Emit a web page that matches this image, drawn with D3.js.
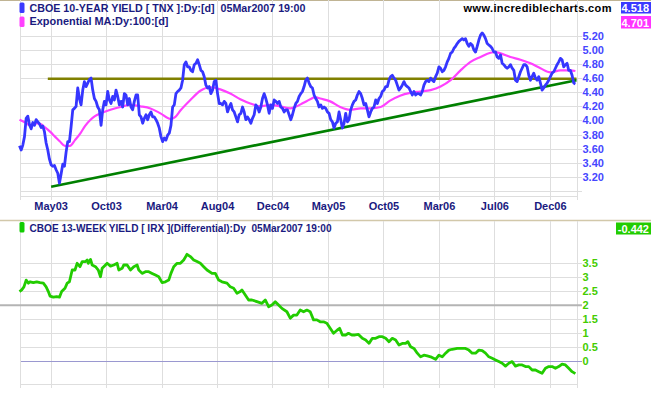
<!DOCTYPE html>
<html><head><meta charset="utf-8">
<script src="https://cdn.jsdelivr.net/npm/d3@7"></script>
<style>
body{margin:0;background:#fff}
svg{display:block}
text{font-family:"Liberation Sans",Arial,sans-serif;white-space:pre;}
</style>
</head><body>
<svg id="chart" width="651" height="395"></svg>
<script>
// ---------- DATA ----------
// CBOE 10-year yield (TNX), daily closes sampled every 3 trading days from start of chart
const tnxStep = 3;
const tnxValues = [
3.64,3.58,3.65,3.77,4.03,4.06,3.94,3.88,3.97,3.93,
4.01,3.98,3.95,3.90,3.92,3.84,3.68,3.58,3.45,3.37,
3.35,3.36,3.30,3.25,3.11,3.24,3.38,3.35,3.55,3.70,
3.70,3.91,4.15,4.17,4.20,
4.46,4.31,4.22,4.43,4.55,4.48,4.53,4.58,4.60,4.43,
4.31,4.27,4.19,4.15,3.93,4.15,4.27,4.22,4.41,4.29,
4.24,4.34,4.29,4.43,4.34,4.22,4.27,4.19,4.38,4.36,
4.22,4.31,4.19,4.15,4.27,4.36,4.36,4.08,4.05,3.96,
4.03,4.08,4.01,4.08,4.12,4.05,4.05,4.01,3.96,3.89,
3.77,3.70,3.75,3.72,3.79,3.82,3.93,4.19,4.22,4.38,
4.41,4.43,4.46,4.57,4.79,4.83,4.76,4.76,4.71,4.69,
4.79,4.81,4.86,4.79,4.71,4.69,4.62,4.50,4.46,4.48,
4.38,4.43,4.55,4.57,4.38,4.24,4.24,4.22,4.27,4.24,
4.12,4.19,4.24,4.15,4.12,4.05,3.98,4.08,4.10,4.19,
4.12,4.01,4.05,4.01,3.96,4.03,4.08,4.22,4.19,4.12,
4.19,4.31,4.38,4.31,4.22,4.10,4.22,4.17,4.29,4.27,
4.24,4.27,4.19,4.17,4.12,4.15,4.15,4.08,4.01,4.08,
4.17,4.24,4.27,4.34,4.38,4.41,4.48,4.57,4.60,4.53,
4.48,4.46,4.36,4.31,4.27,4.19,4.22,4.17,4.19,4.17,
4.12,4.10,4.01,3.98,3.89,3.96,3.98,4.12,4.01,3.89,
3.96,4.10,3.98,4.01,4.15,4.22,4.27,4.29,4.36,4.41,
4.38,4.31,4.22,4.24,4.15,4.05,4.12,4.17,4.19,4.29,
4.24,4.31,4.34,4.41,4.43,4.48,4.48,4.57,4.62,4.64,
4.60,4.57,4.50,4.43,4.46,4.50,4.55,4.50,4.48,4.46,
4.41,4.36,4.41,4.36,4.38,4.38,4.36,4.41,4.50,4.55,
4.57,4.55,4.60,4.57,4.55,4.62,4.67,4.76,4.74,4.69,
4.71,4.76,4.83,4.88,4.95,4.97,5.02,5.05,5.09,5.12,
5.14,5.16,5.14,5.16,5.09,5.05,5.09,5.07,5.00,4.97,
5.05,5.14,5.21,5.24,5.21,5.16,5.09,5.07,5.05,5.02,
4.97,4.97,4.90,4.88,4.93,4.81,4.79,4.76,4.74,4.76,
4.79,4.74,4.71,4.57,4.55,4.62,4.69,4.74,4.79,4.79,
4.76,4.64,4.57,4.62,4.67,4.60,4.57,4.62,4.53,4.43,
4.46,4.50,4.53,4.57,4.62,4.67,4.69,4.74,4.79,4.83,
4.88,4.86,4.76,4.79,4.81,4.71,4.71,4.64,4.53,4.518
];

// Exponential MA (100 day): [trading day, value]
const emaPoints = [
[0,4.01],[10,3.97],[19,3.93],[28,3.96],[37,3.95],[46,3.90],[55,3.84],[64,3.77],[73,3.70],
[82,3.64],[91,3.64],[100,3.72],[110,3.82],[118,3.92],[128,4.01],[136,4.06],[146,4.10],
[164,4.15],[182,4.19],[200,4.22],[218,4.20],[236,4.17],[254,4.10],[272,4.02],[281,4.05],
[290,4.14],[308,4.29],[326,4.42],[344,4.47],[362,4.44],[380,4.38],[398,4.30],[416,4.24],
[434,4.20],[452,4.22],[470,4.20],[488,4.17],[497,4.19],[512,4.25],[524,4.30],[533,4.33],
[542,4.31],[560,4.27],[578,4.19],[596,4.15],[615,4.17],[633,4.17],[651,4.19],[668,4.28],
[686,4.35],[704,4.39],[722,4.41],[741,4.43],[759,4.48],[777,4.57],[795,4.71],[813,4.83],
[831,4.90],[849,4.96],[858,4.97],[867,4.95],[885,4.90],[903,4.86],[921,4.81],[939,4.74],
[957,4.68],[975,4.71],[993,4.71],[1002,4.701]
];

// CBOE 13-week yield (IRX) differential: [trading day, value]
const irxPoints = [
[0,2.49],[4,2.55],[8,2.66],[12,2.90],[16,2.79],[19,2.84],[25,2.81],[31,2.84],[37,2.81],
[43,2.79],[48,2.66],[52,2.49],[55,2.33],[61,2.29],[67,2.31],[72,2.29],[76,2.49],[82,2.61],
[86,2.79],[90,2.84],[95,3.26],[100,3.26],[104,3.50],[109,3.38],[113,3.56],[119,3.56],
[122,3.62],[124,3.50],[128,3.64],[131,3.44],[137,3.38],[142,3.26],[146,3.02],[149,3.32],
[155,3.44],[158,3.50],[164,3.40],[170,3.44],[176,3.50],[179,3.26],[185,3.32],[188,3.44],
[194,3.44],[200,3.26],[206,3.38],[212,3.44],[215,3.26],[221,3.14],[227,3.20],[233,3.20],
[239,3.14],[245,3.08],[251,3.02],[257,2.81],[263,2.84],[269,2.90],[273,3.14],[278,3.38],
[284,3.50],[290,3.50],[296,3.62],[302,3.82],[308,3.74],[314,3.62],[320,3.56],[326,3.50],
[332,3.38],[338,3.26],[347,3.14],[353,3.14],[359,2.90],[365,2.84],[374,2.79],[380,2.66],
[386,2.61],[392,2.43],[398,2.49],[401,2.55],[407,2.37],[413,2.19],[419,2.19],[428,2.13],
[437,2.07],[443,2.19],[449,1.95],[455,2.01],[461,2.13],[467,2.01],[473,1.89],[482,1.77],
[488,1.54],[494,1.65],[500,1.65],[506,1.83],[512,1.77],[518,1.83],[524,1.77],[530,1.48],
[536,1.48],[542,1.41],[548,1.41],[554,1.36],[560,1.18],[566,1.00],[573,1.12],[577,1.18],
[582,0.94],[588,0.94],[593,1.00],[599,0.94],[605,0.94],[611,0.96],[618,0.82],[624,0.76],
[630,0.64],[636,0.82],[642,0.82],[648,0.88],[654,0.88],[660,0.82],[666,0.70],[672,0.82],
[678,0.76],[684,0.58],[690,0.64],[696,0.64],[700,0.70],[705,0.52],[711,0.46],[717,0.29],
[723,0.16],[729,0.22],[735,0.19],[741,0.16],[750,0.07],[756,0.22],[762,0.16],[768,0.29],
[774,0.40],[780,0.43],[789,0.46],[798,0.46],[804,0.46],[810,0.40],[816,0.29],[822,0.29],
[828,0.40],[834,0.38],[840,0.29],[846,0.16],[852,0.11],[858,0.05],[864,-0.01],[870,-0.07],
[876,-0.17],[882,-0.07],[888,-0.01],[894,-0.17],[900,-0.13],[906,-0.13],[912,-0.19],
[918,-0.19],[924,-0.31],[930,-0.31],[936,-0.37],[942,-0.43],[948,-0.25],[954,-0.19],
[960,-0.19],[966,-0.25],[972,-0.19],[978,-0.10],[984,-0.13],[990,-0.25],[996,-0.37],[1002,-0.442]
];

// Trend lines (trading day, value)
const resistanceLine = [[51,4.59],[1004,4.59]];
const supportLine = [[57,3.06],[1004,4.57]];

// Axis ticks
const monthTickDays = [56,156,256,356,456,556,656,756,856,956];
const monthLabels = ["May03","Oct03","Mar04","Aug04","Dec04","May05","Oct05","Mar06","Jul06","Dec06"];
const tnxTicks = [3.0,3.2,3.4,3.6,3.8,4.0,4.2,4.4,4.6,4.8,5.0,5.2];
const tnxTickLabels = [3.2,3.4,3.6,3.8,4.0,4.2,4.4,4.6,4.8,5.0,5.2];
const irxTicks = [0,0.5,1,1.5,2,2.5,3,3.5];

const titleTop = "CBOE 10-YEAR YIELD [ TNX ]:Dy:[d]  05Mar2007 19:00";
const titleMA = "Exponential MA:Dy:100:[d]";
const titleLow = "CBOE 13-WEEK YIELD [ IRX ](Differential):Dy  05Mar2007 19:00";
const watermark = "www.incrediblecharts.com";
const lastTnx = "4.518", lastMA = "4.701", lastIrx = "-0.442";

// ---------- DRAW ----------
const svg = d3.select("#chart");
const L = 19.5, R = 576.5;
const x = d3.scaleLinear().domain([0,1004]).range([L,R]);
const yT = d3.scaleLinear().domain([3.2,5.2]).range([176.8,35.8]);
const yB = d3.scaleLinear().domain([0,3.5]).range([361.3,263.3]);
const topP = {t:0, b:196}, lowP = {t:221, b:384};

const grid = "#dedede";
const px = v => Math.round(v)+0.5;

// separator lines
svg.append("line").attr("x1",0).attr("x2",651).attr("y1",0.5).attr("y2",0.5).attr("stroke","#c0b494").attr("stroke-width",1);
svg.append("line").attr("x1",0).attr("x2",651).attr("y1",220.5).attr("y2",220.5).attr("stroke","#d2c8aa").attr("stroke-width",1.5);

function panel(top, bottom){
  const g = svg.append("g");
  g.selectAll(".vg").data(monthTickDays).enter().append("line")
    .attr("x1",d=>px(x(d))).attr("x2",d=>px(x(d)))
    .attr("y1",top).attr("y2",bottom+4).attr("stroke",grid).attr("shape-rendering","crispEdges");
  g.append("line").attr("x1",px(L)).attr("x2",px(L)).attr("y1",top).attr("y2",bottom+4).attr("stroke",grid).attr("shape-rendering","crispEdges");
  g.append("line").attr("x1",px(R)).attr("x2",px(R)).attr("y1",top).attr("y2",bottom+4).attr("stroke",grid).attr("shape-rendering","crispEdges");
  g.append("line").attr("x1",px(L)).attr("x2",px(R)).attr("y1",px(bottom)).attr("y2",px(bottom)).attr("stroke",grid).attr("shape-rendering","crispEdges");
  return g;
}
const gTop = panel(topP.t, topP.b);
const gLow = panel(lowP.t, lowP.b);

// top horizontal gridlines + labels
gTop.selectAll(".hg").data(tnxTicks).enter().append("line")
  .attr("x1",px(L)).attr("x2",582).attr("y1",d=>px(yT(d))).attr("y2",d=>px(yT(d)))
  .attr("stroke",grid).attr("shape-rendering","crispEdges");
const axT = d3.axisRight(yT).tickValues(tnxTickLabels).tickFormat(d3.format(".2f")).tickSize(0).tickPadding(0);
const axTg = svg.append("g").attr("transform",`translate(582.5,0)`).call(axT);
axTg.select(".domain").remove();
axTg.selectAll("text").attr("fill","#4646ff").attr("font-size","11px").attr("font-weight","bold")
  .attr("font-family","'Liberation Sans',Arial,sans-serif");

// x axis month labels
const axX = d3.axisBottom(x).tickValues(monthTickDays).tickFormat((d,i)=>monthLabels[i]).tickSize(0).tickPadding(0);
const axXg = svg.append("g").attr("transform",`translate(0,202)`).call(axX);
axXg.select(".domain").remove();
axXg.selectAll("text").attr("fill","#1a1a80").attr("font-size","11px").attr("font-weight","bold")
  .attr("font-family","'Liberation Sans',Arial,sans-serif");

// lower gridlines
gLow.selectAll(".hg").data(irxTicks.filter(d=>d!==2 && d!==0)).enter().append("line")
  .attr("x1",px(L)).attr("x2",582).attr("y1",d=>px(yB(d))).attr("y2",d=>px(yB(d)))
  .attr("stroke",grid).attr("shape-rendering","crispEdges");
gLow.append("line").attr("x1",px(L)).attr("x2",582).attr("y1",px(yB(0))).attr("y2",px(yB(0)))
  .attr("stroke","#9a98d0").attr("shape-rendering","crispEdges");
gLow.append("line").attr("x1",0).attr("x2",582).attr("y1",yB(2)).attr("y2",yB(2))
  .attr("stroke","#b4b4b4").attr("stroke-width",2);
const axB = d3.axisRight(yB).tickValues(irxTicks).tickFormat(d3.format("")).tickSize(0).tickPadding(0);
const axBg = svg.append("g").attr("transform",`translate(582.5,0)`).call(axB);
axBg.select(".domain").remove();
axBg.selectAll("text").attr("fill","#44cc00").attr("font-size","11px").attr("font-weight","bold")
  .attr("font-family","'Liberation Sans',Arial,sans-serif");

// top series
const lineT = d3.line().x(d=>x(d[0])).y(d=>yT(d[1]));
const tnxData = tnxValues.map((v,i)=>[i*tnxStep, v]);
svg.append("path").datum(resistanceLine).attr("d",lineT).attr("fill","none").attr("stroke","#808000").attr("stroke-width",2.6);
svg.append("path").datum(supportLine).attr("d",lineT).attr("fill","none").attr("stroke","#008000").attr("stroke-width",2.6);
svg.append("path").datum(emaPoints).attr("d",d3.line().x(d=>x(d[0])).y(d=>yT(d[1])).curve(d3.curveMonotoneX))
  .attr("fill","none").attr("stroke","#ff40ff").attr("stroke-width",2.2);
svg.append("path").datum(tnxData).attr("d",lineT).attr("fill","none").attr("stroke","#3636ff")
  .attr("stroke-width",2.8).attr("stroke-linejoin","round");

// lower series
svg.append("path").datum(irxPoints).attr("d",d3.line().x(d=>x(d[0])).y(d=>yB(d[1])))
  .attr("fill","none").attr("stroke","#22cc00").attr("stroke-width",2.8).attr("stroke-linejoin","round");

// titles & legend
function marker(y0, h, color){
  svg.append("rect").attr("x",19.5).attr("y",y0).attr("width",5).attr("height",h).attr("rx",1.5).attr("fill",color);
}
marker(2.5,10.5,"#3a3aff");
marker(16.5,10.5,"#ff40ff");
marker(222,10.5,"#11cc00");
function title(txt, y0, w){
  svg.append("text").attr("x",29.5).attr("y",y0).attr("xml:space","preserve").text(txt).attr("fill","#1a1a80")
    .attr("font-size","11px").attr("font-weight","bold").attr("textLength",w).attr("lengthAdjust","spacingAndGlyphs");
}
title(titleTop, 12, 276);
title(titleMA, 25, 139);
title(titleLow, 232, 302);
svg.append("text").attr("x",463.5).attr("y",11.5).text(watermark).attr("fill","#000")
  .attr("font-size","11px").attr("font-weight","bold").attr("textLength",148).attr("lengthAdjust","spacing");

function valueBox(txt, x0, y0, w, h, color){
  svg.append("rect").attr("x",x0).attr("y",y0).attr("width",w).attr("height",h).attr("fill",color);
  svg.append("text").attr("x",x0+w-2).attr("y",y0+h-2).attr("text-anchor","end").text(txt)
    .attr("fill","#fff").attr("font-size","11px").attr("font-weight","bold");
}
valueBox(lastTnx, 621, 2, 30, 11.5, "#3a3aff");
valueBox(lastMA, 621, 16, 30, 12.5, "#ff33ff");
valueBox(lastIrx, 616, 222.5, 35, 12, "#22cc00");
</script>
</body></html>
